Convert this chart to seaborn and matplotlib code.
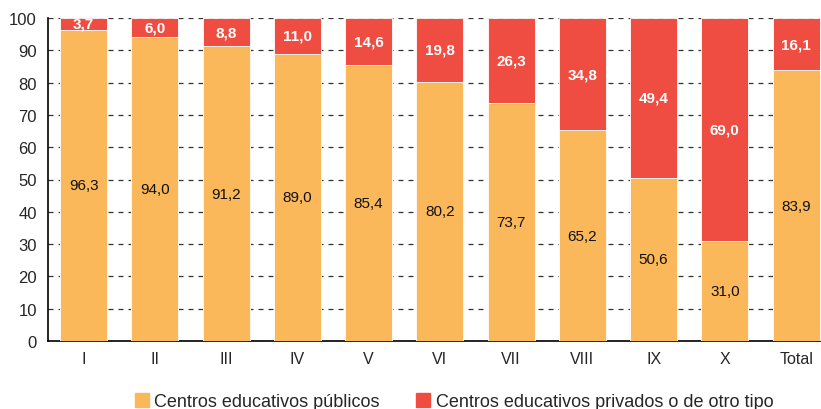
import matplotlib
matplotlib.use("Agg")
import matplotlib.pyplot as plt
import seaborn as sns
import pandas as pd
import numpy as np
from matplotlib.patches import Patch

categories = ["I", "II", "III", "IV", "V", "VI", "VII", "VIII", "IX", "X", "Total"]
publicos = [96.3, 94.0, 91.2, 89.0, 85.4, 80.2, 73.7, 65.2, 50.6, 31.0, 83.9]
privados = [3.7, 6.0, 8.8, 11.0, 14.6, 19.8, 26.3, 34.8, 49.4, 69.0, 16.1]
yticks = [0, 10, 20, 30, 40, 50, 60, 70, 80, 90, 100]

c_pub = "#FAB85A"
c_priv = "#EF4C42"

df = pd.DataFrame({"cat": categories, "pub": publicos, "priv": privados})
df["tot"] = df["pub"] + df["priv"]

sns.set_style("white")
plt.rcParams["font.family"] = ["Liberation Sans", "DejaVu Sans"]

fig = plt.figure(figsize=(8.21, 4.10), dpi=100)
ax = fig.add_axes([48 / 821, (410 - 342) / 410, 1 - 48 / 821, (342 - 19) / 410])
ax.set_axisbelow(True)

n = len(categories)
sns.barplot(data=df, x="cat", y="tot", color=c_priv, width=0.66, saturation=1,
            edgecolor="white", linewidth=0.6, ax=ax, zorder=2)
sns.barplot(data=df, x="cat", y="pub", color=c_pub, width=0.66, saturation=1,
            edgecolor="white", linewidth=0.6, ax=ax, zorder=3)
for k, patch in enumerate(ax.patches):
    patch.set_zorder(2 if k < n else 3)

ax.yaxis.grid(True, color="#333333", lw=0.9, ls=(0, (4, 4)), zorder=0)
ax.xaxis.grid(False)

for i, (p, q) in enumerate(zip(publicos, privados)):
    ax.text(i, p / 2, f"{p:.1f}".replace(".", ","), ha="center", va="center",
            fontsize=11, color="#111111", zorder=5)
    ax.text(i, p + q / 2, f"{q:.1f}".replace(".", ","), ha="center", va="center",
            fontsize=11, color="white", fontweight="bold", zorder=5)

ax.set_xlim(-0.5, 10.35)
ax.set_ylim(0, 100)
ax.set_yticks(yticks)
ax.set_yticklabels([str(v) for v in yticks], fontsize=12)
ax.set_xticks(range(n))
ax.set_xticklabels(categories, fontsize=11.5)
ax.tick_params(axis="x", which="major", length=0, pad=7)
ax.set_xticks(np.arange(0.5, n - 1, 1), minor=True)
ax.tick_params(axis="x", which="minor", length=5, width=1, color="black", direction="out")
ax.tick_params(axis="y", length=5, width=1, color="black", direction="out", pad=3)
ax.set_xlabel("")
ax.set_ylabel("")
for s in ["top", "right"]:
    ax.spines[s].set_visible(False)
for s in ["left", "bottom"]:
    ax.spines[s].set_color("black")
    ax.spines[s].set_linewidth(1.2)

handles = [Patch(color=c_pub, label="Centros educativos públicos"),
           Patch(color=c_priv, label="Centros educativos privados o de otro tipo")]
fig.legend(handles=handles, loc="center", bbox_to_anchor=(0.553, 0.018), ncol=2,
           frameon=False, fontsize=13, handlelength=0.8, handleheight=0.8,
           handletextpad=0.3, columnspacing=2.0)

fig.savefig("out.png", dpi=100)
